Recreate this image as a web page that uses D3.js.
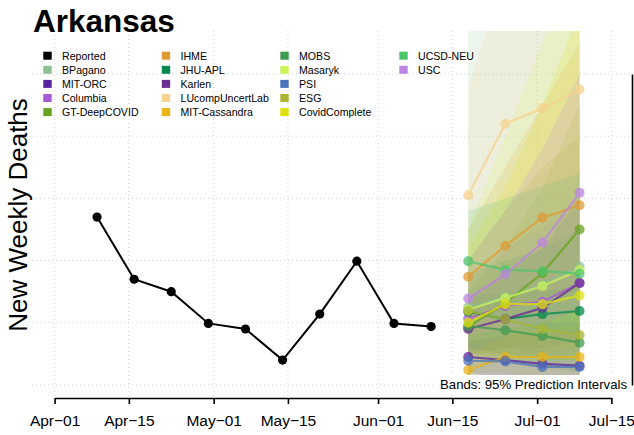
<!DOCTYPE html>
<html>
<head>
<meta charset="utf-8">
<script src="https://cdn.jsdelivr.net/npm/d3@7"></script>
<style>
  body { margin: 0; background: #fff; }
  svg text { font-family: "Liberation Sans", Arial, sans-serif; }
</style>
</head>
<body>
<script>
// Arkansas weekly deaths, reported + model forecasts

const reportedDates = ["2020-04-09", "2020-04-16", "2020-04-23", "2020-04-30", "2020-05-07",
                       "2020-05-14", "2020-05-21", "2020-05-28", "2020-06-04", "2020-06-11"];
const reportedValues = [27, 17, 15, 9.9, 9, 4, 11.4, 19.9, 9.9, 9.4];

const forecastDates = ["2020-06-18", "2020-06-25", "2020-07-02", "2020-07-09"];

const models = ["BPagano", "MIT-ORC", "Columbia", "GT-DeepCOVID", "IHME", "JHU-APL", "Karlen",
                "LUcompUncertLab", "MIT-Cassandra", "MOBS", "Masaryk", "PSI", "ESG",
                "CovidComplete", "UCSD-NEU", "USC"];
const modelColors = ["#8fc090", "#5b22a0", "#a65ad6", "#67a31f", "#e09a33", "#00894b", "#6b2f93",
                     "#f7d28c", "#e9b414", "#3f9b4f", "#cdf25a", "#4a73bd", "#aab532",
                     "#dfe10f", "#4cc46a", "#bd84e1"];

// point forecasts, one row per model (same order as models)
const pointValues = [
  [12.5, 14.1, 16.1, 19.0],  // BPagano
  [4.5, 4.0, 3.4, 3.1],      // MIT-ORC
  [10.7, 12.7, 13.4, 16.4],  // Columbia
  [9.3, 13.2, 18.0, 25.0],   // GT-DeepCOVID
  [17.4, 22.4, 26.9, 28.9],  // IHME
  [11.8, 10.6, 11.4, 11.9],  // JHU-APL
  [9.0, 10.6, 12.4, 16.4],   // Karlen
  [30.5, 42.0, 44.5, 47.5],  // LUcompUncertLab
  [2.4, 4.5, 4.5, 4.5],      // MIT-Cassandra
  [9.5, 8.8, 7.9, 6.8],      // MOBS
  [12.1, 14.0, 15.9, 18.5],  // Masaryk
  [3.9, 3.8, 2.9, 2.9],      // PSI
  [11.9, 10.6, 9.0, 8.0],    // ESG
  [10.0, 13.0, 13.0, 14.4],  // CovidComplete
  [19.9, 18.5, 18.3, 17.9],  // UCSD-NEU
  [13.9, 17.8, 22.9, 30.9]   // USC
];
// 95% prediction interval bounds
const lowerValues = [
  [1, 0, 0, 0], [2, 1, 1, 0], [5, 6, 6, 7], [5, 6, 7, 9], [10, 12, 14, 15], [6, 5, 4, 4],
  [5, 5, 5, 6], [15, 22, 25, 28], [0, 1, 1, 1], [5, 4, 3, 2], [5, 5, 5, 6], [1, 0, 0, 0],
  [2, 2, 1, 1], [3, 4, 4, 4], [12, 10, 9, 8], [8, 9, 10, 12]
];
const upperValues = [
  [70, 80, 90, 100], [7, 8, 8, 9], [17, 22, 26, 30], [15, 22, 32, 45], [25, 35, 45, 55], [18, 20, 22, 25],
  [14, 18, 22, 30], [48, 65, 75, 85], [5, 8, 9, 10], [14, 15, 15, 16], [25, 40, 55, 70], [8, 9, 10, 10],
  [20, 28, 35, 40], [22, 32, 45, 60], [28, 30, 32, 34], [20, 28, 38, 50]
];

const xTickDates = ["2020-04-01", "2020-04-15", "2020-05-01", "2020-05-15",
                    "2020-06-01", "2020-06-15", "2020-07-01", "2020-07-15"];
const xTickLabels = ["Apr\u221201", "Apr\u221215", "May\u221201", "May\u221215",
                     "Jun\u221201", "Jun\u221215", "Jul\u221201", "Jul\u221215"];
const yTicks = [0, 10, 20, 30, 40, 50];

const width = 634, height = 435;
const plot = { left: 32, right: 632, top: 31, bottom: 398 };
const parse = d3.utcParse("%Y-%m-%d");

const svg = d3.select("body").append("svg")
  .attr("width", width)
  .attr("height", height);

const x = d3.scaleUtc()
  .domain([parse(xTickDates[0]), parse(xTickDates[xTickDates.length - 1])])
  .range([54.6, 611.4]);
const y = d3.scaleLinear()
  .domain([0, 50])
  .range([385, 74]);

svg.append("clipPath").attr("id", "plotclip")
  .append("rect")
  .attr("x", plot.left).attr("y", plot.top)
  .attr("width", plot.right - plot.left).attr("height", plot.bottom - plot.top);

// grid
const grid = svg.append("g").attr("stroke", "#d3d3d3").attr("stroke-dasharray", "1,3");
grid.selectAll(".vg").data(xTickDates).enter().append("line")
  .attr("x1", d => x(parse(d))).attr("x2", d => x(parse(d)))
  .attr("y1", plot.top).attr("y2", plot.bottom);
grid.selectAll(".hg").data(yTicks).enter().append("line")
  .attr("x1", plot.left).attr("x2", plot.right)
  .attr("y1", d => y(d)).attr("y2", d => y(d));

const inner = svg.append("g").attr("clip-path", "url(#plotclip)");

// bands
const area = d3.area()
  .x(d => x(d.date))
  .y0(d => y(d.lo))
  .y1(d => y(d.hi));
models.forEach((m, i) => {
  const rows = forecastDates.map((d, j) => ({ date: parse(d), lo: lowerValues[i][j], hi: upperValues[i][j] }));
  inner.append("path")
    .attr("d", area(rows))
    .attr("fill", modelColors[i])
    .attr("fill-opacity", 0.17);
});

// forecast lines and points
const line = d3.line().x(d => x(d.date)).y(d => y(d.v));
models.forEach((m, i) => {
  const rows = forecastDates.map((d, j) => ({ date: parse(d), v: pointValues[i][j] }));
  const g = inner.append("g").attr("opacity", 0.75);
  g.append("path")
    .attr("d", line(rows))
    .attr("fill", "none")
    .attr("stroke", modelColors[i])
    .attr("stroke-width", 2.2);
  g.selectAll("circle").data(rows).enter().append("circle")
    .attr("cx", d => x(d.date))
    .attr("cy", d => y(d.v))
    .attr("r", 5)
    .attr("fill", modelColors[i]);
});

// reported
const rep = reportedDates.map((d, i) => ({ date: parse(d), v: reportedValues[i] }));
inner.append("path")
  .attr("d", line(rep))
  .attr("fill", "none")
  .attr("stroke", "#000")
  .attr("stroke-width", 2);
inner.selectAll(".rp").data(rep).enter().append("circle")
  .attr("cx", d => x(d.date))
  .attr("cy", d => y(d.v))
  .attr("r", 4.6)
  .attr("fill", "#000");

// x axis
const xAxis = d3.axisBottom(x)
  .tickValues(xTickDates.map(parse))
  .tickFormat((d, i) => xTickLabels[i])
  .tickSize(6)
  .tickSizeOuter(0);
const gx = svg.append("g")
  .attr("transform", "translate(0,398)")
  .call(xAxis);
gx.select(".domain").attr("stroke-width", 1.6);
gx.selectAll(".tick line").attr("stroke-width", 1.6);
gx.selectAll(".tick text")
  .attr("font-size", 15.5)
  .attr("fill", "#000")
  .attr("dy", "1.25em");

// y axis on the right (labels fall outside the picture)
const yAxis = d3.axisRight(y)
  .tickValues(yTicks)
  .tickFormat(() => "")
  .tickSize(0)
  .tickSizeOuter(0);
const gy = svg.append("g")
  .attr("transform", "translate(632,0)")
  .call(yAxis);
gy.select(".domain").attr("stroke-width", 1.6);

// bands note
svg.append("rect")
  .attr("x", 435).attr("y", 375)
  .attr("width", 195).attr("height", 17)
  .attr("fill", "#fff");
svg.append("text")
  .attr("x", 627).attr("y", 388.5)
  .attr("text-anchor", "end")
  .attr("font-size", 13.2)
  .text("Bands: 95% Prediction Intervals");

// title and y label
svg.append("text")
  .attr("x", 33).attr("y", 32)
  .attr("font-size", 31.5)
  .attr("font-weight", "bold")
  .text("Arkansas");
svg.append("text")
  .attr("transform", "translate(27,215) rotate(-90)")
  .attr("text-anchor", "middle")
  .attr("font-size", 26)
  .text("New Weekly Deaths");

// legend, 5 rows per column
const legendNames = ["Reported"].concat(models);
const legendColors = ["#000"].concat(modelColors);
const colX = [47.5, 166, 284.5, 403.5];
const leg = svg.append("g");
legendNames.forEach((n, i) => {
  const cx = colX[Math.floor(i / 5)];
  const cy = 55.7 + (i % 5) * 14.1;
  leg.append("rect")
    .attr("x", cx - 4.2).attr("y", cy - 4)
    .attr("width", 8.4).attr("height", 8)
    .attr("fill", legendColors[i]);
  leg.append("text")
    .attr("x", cx + 14.5).attr("y", cy + 3.9)
    .attr("font-size", 10.6)
    .text(n);
});
</script>
</body>
</html>
